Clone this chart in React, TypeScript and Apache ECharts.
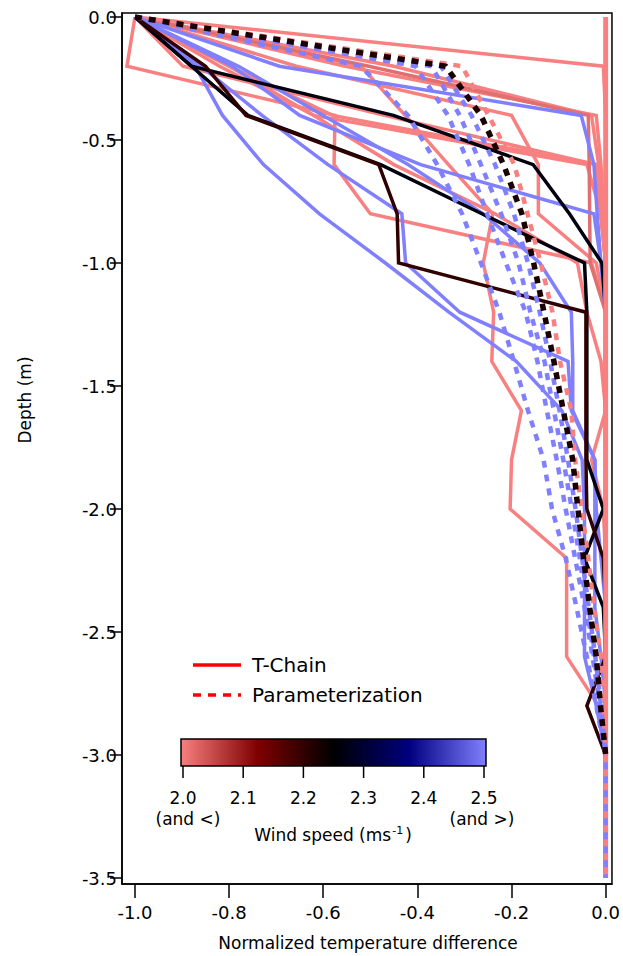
import React, { useEffect, useRef } from "react";
import * as echarts from "echarts";

// Depth levels (m)
const depths = [0, -0.2, -0.4, -0.6, -0.8, -1.0, -1.2, -1.4, -1.6, -1.8, -2.0, -2.2, -2.4, -2.6, -2.8, -3.0, -3.2, -3.4, -3.5];

// Tick labels
const xTicks = [-1.0, -0.8, -0.6, -0.4, -0.2, 0.0];
const yTicks = [0, -0.5, -1.0, -1.5, -2.0, -2.5, -3.0, -3.5];
const cbTicks = [2.0, 2.1, 2.2, 2.3, 2.4, 2.5];

// T-Chain profiles (normalized temperature difference at each depth)
// wind <= 2.0 (pink)
const tPink1 = [-1, -0.005, 0, 0, 0, 0, 0, 0, 0, 0, 0, 0, 0, 0, 0, 0, 0, 0, 0];
const tPink2 = [-1, -1.017, -0.575, -0.577, -0.5, -0.03, 0, 0, 0, 0, 0, 0, 0, 0, 0, 0, 0, 0, 0];
const tPink3 = [-1, -0.553, -0.02, -0.01, -0.005, 0, 0, 0, 0, 0, 0, 0, 0, 0, 0, 0, 0, 0, 0];
const tPink4 = [-1, -0.657, -0.2, -0.143, -0.143, -0.02, 0, 0, 0, 0, 0, 0, 0, 0, 0, 0, 0, 0, 0];
const tPink5 = [-1, -0.52, -0.426, -0.334, -0.24, -0.26, -0.238, -0.242, -0.179, -0.2, -0.203, -0.083, -0.083, -0.083, -0.015, 0, 0, 0, 0];
const tPink6 = [-1, -0.898, -0.47, -0.02, -0.01, 0, 0, 0, 0, 0, 0, 0, 0, 0, 0, 0, 0, 0, 0];
const tPink7 = [-1, -0.8, -0.58, -0.02, -0.01, 0, 0, 0, 0, 0, 0, 0, 0, 0, 0, 0, 0, 0, 0];
const tPink8 = [-1, -0.8, -0.62, -0.45, -0.235, -0.06, -0.04, -0.01, 0, -0.03, -0.005, 0, 0, 0, 0, 0, 0, 0, 0];
const tPink9 = [-1, -0.45, -0.03, -0.015, -0.01, 0, 0, 0, 0, 0, 0, 0, 0, 0, 0, 0, 0, 0, 0];
const tPink10 = [-1, -0.82, -0.62, -0.04, -0.01, 0, 0, 0, 0, 0, 0, 0, 0, 0, 0, 0, 0, 0, 0];
const tPinkDark = [-1, -0.503, -0.037, -0.035, -0.034, -0.033, 0, 0, 0, 0, 0, 0, 0, 0, 0, 0, 0, 0, 0];
const tPinkZero = [0, 0, 0, 0, 0, 0, 0, 0, 0, 0, 0, 0, 0, 0, 0, 0, 0, 0, 0];
// wind >= 2.5 (blue)
const tBlue1 = [-1, -0.872, -0.814, -0.727, -0.608, -0.468, -0.333, -0.19, -0.093, -0.05, -0.045, -0.045, -0.045, -0.045, -0.02, 0, 0, 0, 0];
const tBlue2 = [-1, -0.693, -0.052, -0.025, -0.018, -0.01, 0, 0, 0, 0, 0, 0, 0, 0, 0, 0, 0, 0, 0];
const tBlue3 = [-1, -0.793, -0.65, -0.393, -0.025, -0.01, 0, 0, 0, 0, 0, 0, 0, 0, 0, 0, 0, 0, 0];
const tBlue4 = [-1, -0.86, -0.73, -0.59, -0.433, -0.425, -0.31, -0.08, -0.073, -0.023, -0.02, -0.01, 0, 0, 0, 0, 0, 0, 0];
const tBlue5 = [-1, -0.78, -0.6, -0.42, -0.26, -0.14, -0.073, -0.07, -0.07, -0.023, -0.023, -0.023, -0.023, -0.01, 0, 0, 0, 0, 0];
// wind ~2.2 (dark red) and ~2.25 (black)
const tDarkRed = [-1, -0.85, -0.764, -0.482, -0.443, -0.44, -0.042, -0.042, -0.042, -0.042, -0.04, -0.005, 0, 0, -0.04, 0, 0, 0, 0];
const tBlack1 = [-1, -0.88, -0.451, -0.154, -0.077, -0.008, 0, 0, 0, 0, 0, 0, 0, 0, 0, 0, 0, 0, 0];
const tBlack2 = [-1, -0.88, -0.76, -0.478, -0.263, -0.045, -0.04, -0.04, -0.04, -0.04, -0.005, -0.045, -0.005, 0, 0, 0, 0, 0, 0];

// Parameterization profiles
const pBlue1 = [-1, -0.52, -0.42, -0.358, -0.305, -0.265, -0.226, -0.195, -0.165, -0.132, -0.114, -0.085, -0.062, -0.04, -0.02, 0, 0, 0, 0];
const pBlue2 = [-1, -0.404, -0.335, -0.29, -0.252, -0.212, -0.17, -0.145, -0.125, -0.104, -0.085, -0.065, -0.045, -0.028, -0.012, 0];
const pBlue3 = [-1, -0.37, -0.31, -0.265, -0.222, -0.185, -0.16, -0.13, -0.11, -0.09, -0.072, -0.055, -0.04, -0.025, -0.01, 0];
const pBlue4 = [-1, -0.35, -0.285, -0.235, -0.195, -0.165, -0.14, -0.118, -0.098, -0.08, -0.064, -0.05, -0.036, -0.022, -0.01, 0];
const pBlack = [-1, -0.34, -0.265, -0.217, -0.178, -0.153, -0.131, -0.11, -0.09, -0.07, -0.059, -0.047, -0.034, -0.02, -0.011, 0];
const pPink = [-1, -0.305, -0.249, -0.194, -0.166, -0.138, -0.113, -0.097, -0.073, -0.065, -0.051, -0.037, -0.025, -0.01, -0.004, 0];

const PINK = "#F88080";
const PINK_DARK = "#E07070";
const BLUE = "#8080FF";
const DARKRED = "#300000";
const BLACK = "#00000F";
const FONT = "DejaVu Sans";

const solid: [number[], string, number][] = [
  [tPink2, PINK, 3.5], [tPink3, PINK, 3.5], [tPink4, PINK, 3.5], [tPink5, PINK, 3.5],
  [tPink6, PINK, 3.5], [tPink7, PINK, 3.5], [tPink8, PINK, 3.5], [tPink9, PINK, 3.5],
  [tPink10, PINK, 3.5], [tPinkDark, PINK_DARK, 3.5], [tPink1, PINK, 3.5],
  [tBlue1, BLUE, 3.5], [tBlue2, BLUE, 3.5], [tBlue3, BLUE, 3.5], [tBlue4, BLUE, 3.5], [tBlue5, BLUE, 3.5],
  [tBlack1, BLACK, 3.5], [tBlack2, BLACK, 3.5], [tDarkRed, DARKRED, 3.5],
  [tPinkZero, PINK, 5],
];
const dashed: [number[], string, number][] = [
  [pBlue1, BLUE, 4.5], [pBlue2, BLUE, 4.5], [pBlue3, BLUE, 4.5], [pBlue4, BLUE, 4.5],
  [pPink, PINK, 4.5], [pBlack, "#1a0000", 5.5],
];

export default function App() {
  const ref = useRef<HTMLDivElement>(null);
  useEffect(() => {
    if (!ref.current) return;
    const chart = echarts.init(ref.current, null, { renderer: "svg" });
    const gl = 122, gt = 13, gw = 492, gh = 871;
    const x0 = 135, x1 = 607.7; // px of -1 and 0
    const xs = (x1 - x0) / 1.0;
    const y0 = 17, ys = 246;
    const xMin = -1 - (x0 - gl) / xs;
    const xMax = (gl + gw - x1) / xs;
    const yMax = (y0 - gt) / ys;
    const yMin = -(gt + gh - y0) / ys;

    const mk = (vals: number[], color: string, width: number, type: any) => ({
      type: "line",
      data: vals.map((v, i) => [v, depths[i]]),
      symbol: "none",
      silent: true,
      lineStyle: { color, width, type, cap: "butt", join: "miter" },
    });
    const series: any[] = [
      ...solid.map(([v, c, w]) => mk(v, c, w, "solid")),
      ...dashed.map(([v, c, w]) => mk(v, c, w, [7, 7])),
    ];

    const cbL = 181, cbR = 486, cbT = 739, cbB = 766;
    const cbX = (v: number) => 183 + ((v - 2.0) / 0.5) * 301;
    const graphics: any[] = [
      // legend
      { type: "line", shape: { x1: 193, y1: 665, x2: 241, y2: 665 }, style: { stroke: "#FF0000", lineWidth: 3.5 } },
      { type: "text", x: 252, y: 665, style: { text: "T-Chain", font: `20px '${FONT}'`, fill: "#000", verticalAlign: "middle" } },
      { type: "line", shape: { x1: 193, y1: 695, x2: 241, y2: 695 }, style: { stroke: "#FF0000", lineWidth: 3.5, lineDash: [8, 7] } },
      { type: "text", x: 252, y: 695, style: { text: "Parameterization", font: `20px '${FONT}'`, fill: "#000", verticalAlign: "middle" } },
      // colorbar
      {
        type: "rect",
        shape: { x: cbL, y: cbT, width: cbR - cbL, height: cbB - cbT },
        style: {
          fill: {
            type: "linear", x: 0, y: 0, x2: 1, y2: 0,
            colorStops: [
              { offset: 0, color: "#F88080" },
              { offset: 0.25, color: "#800000" },
              { offset: 0.5, color: "#000000" },
              { offset: 0.75, color: "#000080" },
              { offset: 1, color: "#8080FF" },
            ],
          },
          stroke: "#000", lineWidth: 1.5,
        },
      },
      ...cbTicks.map((v) => ({ type: "line", shape: { x1: cbX(v), y1: cbB, x2: cbX(v), y2: cbB + 12 }, style: { stroke: "#000", lineWidth: 1.5 } })),
      ...cbTicks.map((v) => ({ type: "text", x: cbX(v), y: 798, style: { text: v.toFixed(1), font: `17px '${FONT}'`, fill: "#000", align: "center", verticalAlign: "middle" } })),
      { type: "text", x: 188, y: 819, style: { text: "(and <)", font: `17px '${FONT}'`, fill: "#000", align: "center", verticalAlign: "middle" } },
      { type: "text", x: 482, y: 819, style: { text: "(and >)", font: `17px '${FONT}'`, fill: "#000", align: "center", verticalAlign: "middle" } },
      {
        type: "text", x: 333, y: 835,
        style: {
          text: "{a|Wind speed (ms}{s|-1}{a|)}",
          align: "center", verticalAlign: "middle", fill: "#000",
          rich: {
            a: { fontSize: 17, fontFamily: FONT, fill: "#000" },
            s: { fontSize: 11, fontFamily: FONT, fill: "#000", verticalAlign: "top", padding: [0, 2, 10, 1] },
          },
        },
      },
      // axis titles
      { type: "text", x: 25, y: 400, rotation: Math.PI / 2, style: { text: "Depth (m)", font: `17px '${FONT}'`, fill: "#000", align: "center", verticalAlign: "middle" } },
      { type: "text", x: 368, y: 943, style: { text: "Normalized temperature difference", font: `17px '${FONT}'`, fill: "#000", align: "center", verticalAlign: "middle" } },
    ];

    chart.setOption({
      animation: false,
      backgroundColor: "#fff",
      grid: { left: gl, top: gt, width: gw, height: gh, show: true, borderColor: "#000", borderWidth: 1.5, backgroundColor: "transparent" },
      xAxis: {
        type: "value", min: xMin, max: xMax,
        axisLine: { show: true, onZero: false, lineStyle: { color: "#000", width: 1.5 } },
        axisTick: { show: true, customValues: xTicks, length: 14, lineStyle: { color: "#000", width: 1.5 } },
        axisLabel: { customValues: xTicks, formatter: (v: number) => v.toFixed(1), fontSize: 18, fontFamily: FONT, color: "#000", margin: 19 },
        splitLine: { show: false },
      },
      yAxis: {
        type: "value", min: yMin, max: yMax,
        axisLine: { show: true, onZero: false, lineStyle: { color: "#000", width: 1.5 } },
        axisTick: { show: true, customValues: yTicks, length: 12, lineStyle: { color: "#000", width: 1.5 } },
        axisLabel: { customValues: yTicks, formatter: (v: number) => v.toFixed(1), fontSize: 18, fontFamily: FONT, color: "#000", margin: 5 },
        splitLine: { show: false },
      },
      series,
      graphic: graphics,
    });
    return () => chart.dispose();
  }, []);
  return <div ref={ref} style={{ position: "absolute", left: 0, top: 0, width: 623, height: 956 }} />;
}
